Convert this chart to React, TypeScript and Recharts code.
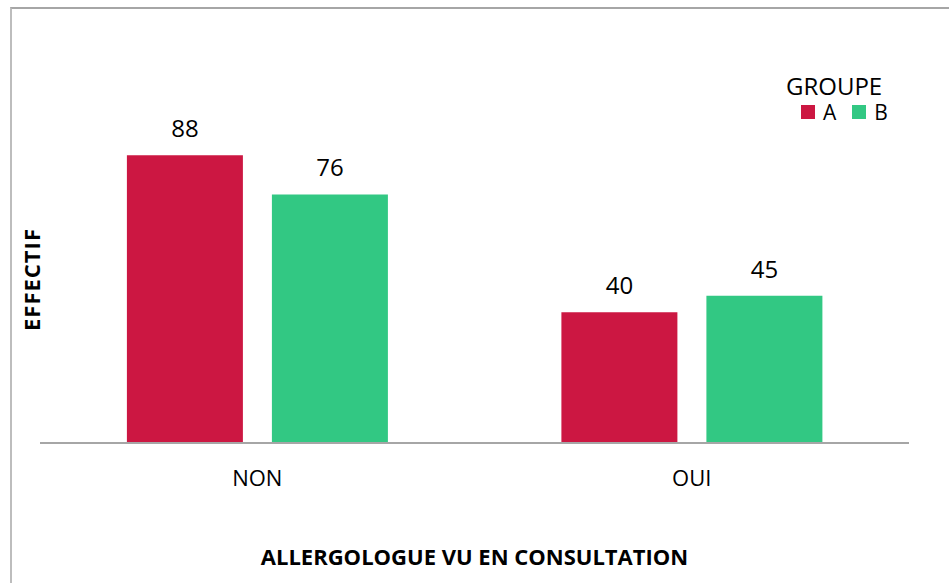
import React from "react";
import { BarChart, Bar, XAxis, YAxis, LabelList, Legend, Label } from "recharts";

const categories = ["NON", "OUI"];
const groupA = [88, 40];
const groupB = [76, 45];
const seriesNames = ["A", "B"];
const legendTitle = "GROUPE";
const xTitle = "ALLERGOLOGUE VU EN CONSULTATION";
const yTitle = "EFFECTIF";

const COLORS = ["#CC1742", "#32C883"];
const FONT = "'Open Sans', sans-serif";

const data = categories.map((c, i) => ({ cat: c, A: groupA[i], B: groupB[i] }));

const LegendContent = () => (
  <div style={{ fontFamily: FONT, color: "#000" }}>
    <div style={{ fontSize: 24, lineHeight: "24px", height: 24 }}>{legendTitle}</div>
    <div style={{ display: "flex", alignItems: "center", marginLeft: 15, marginTop: 4, fontSize: 21, lineHeight: "20px" }}>
      {seriesNames.map((n, i) => (
        <div key={n} style={{ display: "flex", alignItems: "center", marginRight: 16 }}>
          <div style={{ width: 14, height: 14, background: COLORS[i], marginRight: 8 }} />
          <span>{n}</span>
        </div>
      ))}
    </div>
  </div>
);

export default function App() {
  return (
    <div style={{ position: "absolute", left: 0, top: 0, width: 949, height: 583, background: "#fff", overflow: "hidden" }}>
      <div
        style={{
          position: "absolute",
          left: 10,
          top: 7,
          width: 960,
          height: 600,
          borderTop: "2px solid #a6a6a6",
          borderLeft: "2px solid #bdbdbd",
          boxSizing: "border-box",
        }}
      />
      <div style={{ position: "absolute", left: 0, top: 0 }}>
        <BarChart
          width={949}
          height={583}
          data={data}
          margin={{ top: 116, right: 40, bottom: 30, left: 10 }}
          barCategoryGap="20%"
          barGap={29}
        >
          <XAxis
            dataKey="cat"
            height={110}
            axisLine={{ stroke: "#a6a6a6", strokeWidth: 2 }}
            tickLine={false}
            tickSize={0}
            tickMargin={27}
            tick={{ fill: "#000", fontSize: 22, fontFamily: FONT }}
          >
            <Label
              content={(props: any) => {
                const vb = props.viewBox || {};
                return (
                  <text
                    x={vb.x + vb.width / 2}
                    y={vb.y + 122}
                    textAnchor="middle"
                    fontFamily={FONT}
                    fontWeight={700}
                    fontSize={22}
                    fill="#000"
                  >
                    {xTitle}
                  </text>
                );
              }}
            />
          </XAxis>
          <YAxis width={30} domain={[0, 100]} tick={false} axisLine={false} tickLine={false}>
            <Label
              content={(props: any) => {
                const vb = props.viewBox || {};
                const cx = vb.x + 30;
                const cy = vb.y + vb.height / 2;
                return (
                  <text
                    x={cx}
                    y={cy}
                    textAnchor="middle"
                    transform={`rotate(-90, ${cx}, ${cy})`}
                    fontFamily={FONT}
                    fontWeight={700}
                    fontSize={22}
                    letterSpacing={1}
                    fill="#000"
                  >
                    {yTitle}
                  </text>
                );
              }}
            />
          </YAxis>
          <Legend
            layout="horizontal"
            verticalAlign="middle"
            align="center"
            content={<LegendContent />}
            wrapperStyle={{ position: "absolute", top: 74, left: 786, width: 140 }}
          />
          <Bar dataKey="A" name="A" fill={COLORS[0]} isAnimationActive={false}>
            <LabelList dataKey="A" position="top" offset={18} fill="#000" fontSize={24} fontFamily={FONT} />
          </Bar>
          <Bar dataKey="B" name="B" fill={COLORS[1]} isAnimationActive={false}>
            <LabelList dataKey="B" position="top" offset={18} fill="#000" fontSize={24} fontFamily={FONT} />
          </Bar>
        </BarChart>
      </div>
    </div>
  );
}
